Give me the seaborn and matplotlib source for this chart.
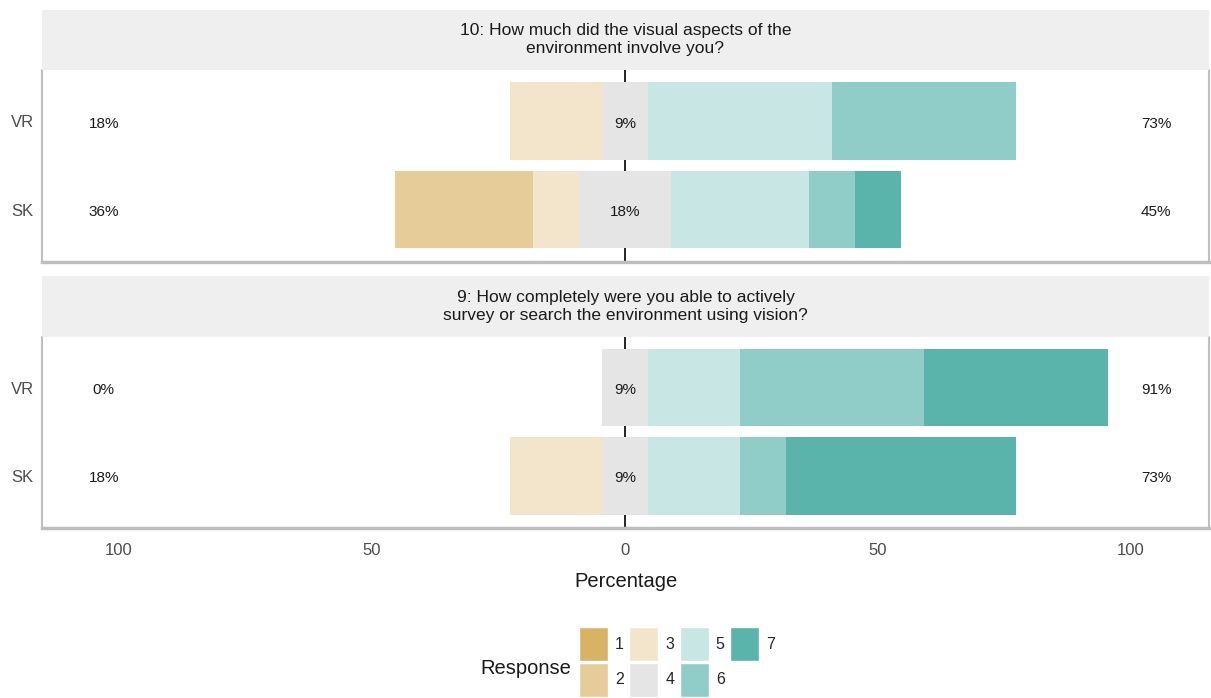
import matplotlib
matplotlib.use('Agg')
import matplotlib.pyplot as plt
from matplotlib.patches import Patch
import numpy as np
import pandas as pd
import seaborn as sns

# Likert responses (percent of 11 participants) per question and condition
responses = ['1', '2', '3', '4', '5', '6', '7']
groups = ['VR', 'SK']
questions = ['10: How much did the visual aspects of the\nenvironment involve you?',
             '9: How completely were you able to actively\nsurvey or search the environment using vision?']

q10_vr = [0, 0, 18.18, 9.09, 36.36, 36.36, 0]
q10_sk = [0, 27.27, 9.09, 18.18, 27.27, 9.09, 9.09]
q9_vr = [0, 0, 0, 9.09, 18.18, 36.36, 36.36]
q9_sk = [0, 0, 18.18, 9.09, 18.18, 9.09, 45.45]

palette = ['#D8B365', '#E5CC98', '#F2E5CB', '#E5E5E5', '#C8E6E3', '#91CDC8', '#5AB4AC']

sns.set_theme(style='white')
plt.rcParams['font.family'] = ['Liberation Sans', 'DejaVu Sans']

fig = plt.figure(figsize=(12.11, 6.98), dpi=100)

left, right = 42 / 1211, 1209 / 1211
H = 698
panels = [(70, 262, 10), (337, 528, 276)]
data = [{'VR': q10_vr, 'SK': q10_sk}, {'VR': q9_vr, 'SK': q9_sk}]


def segment_ends(v):
    # end position (from 0) of each overlapping bar, farthest drawn first
    v = np.array(v)
    half = v[3] / 2
    ends = {}
    for k in [6, 5, 4]:
        ends[k] = half + v[4:k + 1].sum()
    for k in [0, 1, 2]:
        ends[k] = -(half + v[k:3].sum())
    return ends, half


for i, (top, bottom, strip_top) in enumerate(panels):
    ax = fig.add_axes([left, 1 - bottom / H, right - left, (bottom - top) / H])
    sax = fig.add_axes([left, 1 - top / H, right - left, (top - strip_top) / H])
    sax.set_facecolor('#EFEFEF')
    sax.set_xticks([])
    sax.set_yticks([])
    for s in sax.spines.values():
        s.set_visible(False)
    sax.text(0.5, 0.5, questions[i], ha='center', va='center', fontsize=12.5,
             color='#1A1A1A', linespacing=1.25, transform=sax.transAxes)

    d = data[i]
    ax.axvline(0, color='black', lw=1.2, zorder=0)

    rows = []
    for g in groups:
        ends, half = segment_ends(d[g])
        for k, e in ends.items():
            rows.append((g, e, k))
        rows.append((g, half, 3))
        rows.append((g, -half, 3))
    df = pd.DataFrame(rows, columns=['group', 'value', 'resp'])

    # draw outer segments first, neutral last (split into its two halves)
    for k, side in [(6, 1), (5, 1), (4, 1), (0, -1), (1, -1), (2, -1), (3, 1), (3, -1)]:
        part = df[(df['resp'] == k) & (np.sign(df['value']) * side >= 0)]
        part = part.drop_duplicates('group')
        sns.barplot(data=part, x='value', y='group', order=groups, orient='h',
                    color=palette[k], width=0.88, linewidth=0, saturation=1,
                    errorbar=None, ax=ax, zorder=2)

    for j, g in enumerate(groups):
        v = np.array(d[g])
        low = int(round(v[:3].sum()))
        mid = int(round(v[3]))
        high = int(round(v[4:].sum()))
        y = j + 0.03
        ax.text(-103, y, f'{low}%', ha='center', va='center', fontsize=11, color='#1A1A1A')
        ax.text(0, y, f'{mid}%', ha='center', va='center', fontsize=11, color='#1A1A1A', zorder=5)
        ax.text(105, y, f'{high}%', ha='center', va='center', fontsize=11, color='#1A1A1A')

    ax.set_xlim(-115.2, 115.4)
    ax.set_ylim(1.593, -0.576)
    ax.set_xticks([-100, -50, 0, 50, 100])
    ax.set_xlabel('')
    ax.set_ylabel('')
    ax.tick_params(axis='y', length=0, labelsize=12, labelcolor='#4D4D4D', pad=6)
    ax.tick_params(axis='x', length=3, width=1, color='#CCCCCC', labelsize=12,
                   labelcolor='#4D4D4D', pad=8)
    for s in ['left', 'right']:
        ax.spines[s].set_color('#C0C0C0')
        ax.spines[s].set_linewidth(1.5)
    ax.spines['top'].set_visible(False)
    ax.spines['bottom'].set_color('#BEBEBE')
    ax.spines['bottom'].set_linewidth(2.5)
    if i == 0:
        ax.set_xticklabels([])
    else:
        ax.set_xticklabels(['100', '50', '0', '50', '100'])
        ax.set_xlabel('Percentage', fontsize=14.5, color='#1A1A1A', labelpad=10)

# legend
handles = [Patch(facecolor=c, edgecolor='white', label=r) for c, r in zip(palette, responses)]
fig.legend(handles=handles, ncol=4, loc='upper left', bbox_to_anchor=(579 / 1211, 1 - 627 / H),
           frameon=False, fontsize=11.5, handlelength=1.8, handleheight=2.9,
           handletextpad=0.45, columnspacing=0.35, labelspacing=0.1, borderaxespad=0,
           borderpad=0)
fig.text(526 / 1211, 1 - 668 / H, 'Response', ha='center', va='center', fontsize=14.5, color='#1A1A1A')

plt.savefig('out.png', dpi=100)
